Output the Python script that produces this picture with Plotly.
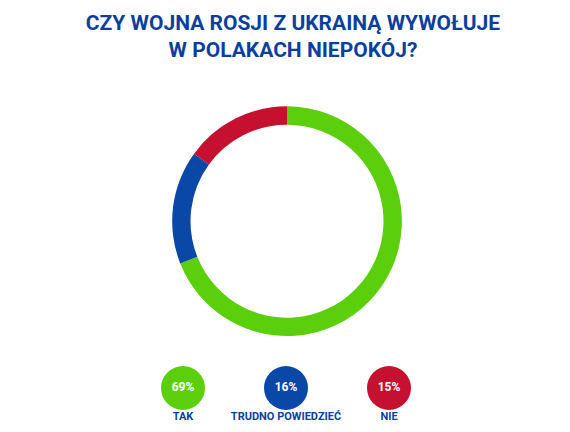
import plotly.graph_objects as go

labels = ["TAK", "TRUDNO POWIEDZIEĆ", "NIE"]
values = [69, 16, 15]
colors = ["#5ccf0c", "#0a48a8", "#c5102f"]
pct_text = ["69%", "16%", "15%"]
navy = "#0b3f9e"

fig = go.Figure()
fig.add_trace(go.Pie(labels=labels, values=values, hole=0.84, sort=False,
                     direction="clockwise", rotation=0,
                     marker=dict(colors=colors, line=dict(width=0)),
                     textinfo="none", hoverinfo="label+percent", showlegend=False,
                     domain=dict(x=[0.288, 0.691], y=[0.24, 0.773])))
xs = list(range(len(labels)))
fig.add_trace(go.Scatter(x=xs, y=[380]*3, mode="markers+text", text=pct_text,
                         textposition="middle center",
                         marker=dict(size=44, color=colors),
                         textfont=dict(color="white", size=12, family="Roboto", weight="bold"),
                         showlegend=False, hoverinfo="skip"))
fig.add_trace(go.Scatter(x=xs, y=[409]*3, mode="text", text=labels,
                         textfont=dict(color=navy, size=11, family="Roboto", weight="bold"),
                         showlegend=False, hoverinfo="skip"))
fig.update_layout(
    width=570, height=432, margin=dict(l=0, r=0, t=0, b=0),
    paper_bgcolor="white", plot_bgcolor="white",
    xaxis=dict(range=[-175/103, 395/103], visible=False, fixedrange=True),
    yaxis=dict(range=[432, 0], visible=False, fixedrange=True),
    title=dict(text="CZY WOJNA ROSJI Z UKRAINĄ WYWOŁUJE<br>W POLAKACH NIEPOKÓJ?",
               x=0.5, xanchor="center", y=0.95, yanchor="top",
               font=dict(family="Roboto", size=21, color=navy, weight="bold")),
)
fig.write_html("out.html")
